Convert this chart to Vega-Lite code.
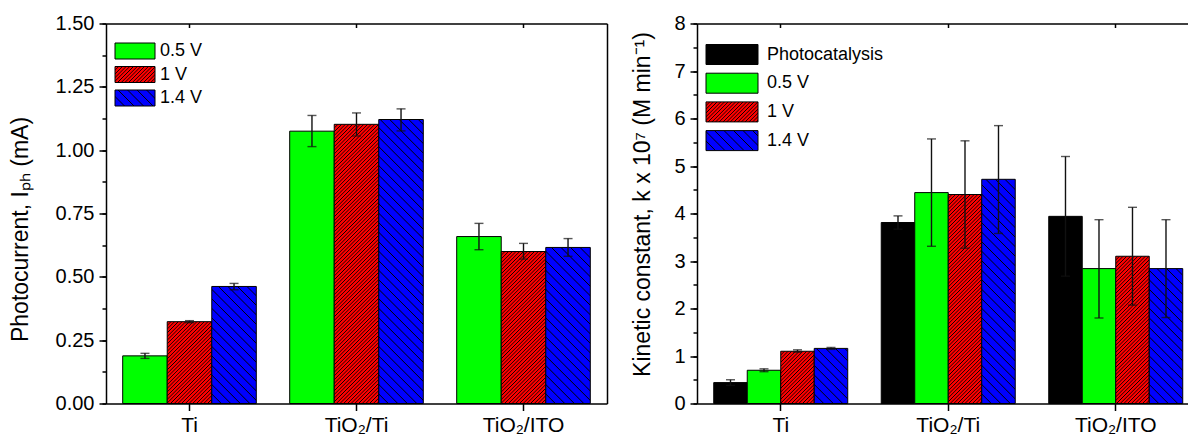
{
  "$schema": "https://vega.github.io/schema/vega-lite/v6.json",
  "padding": {"left": 9, "top": 13.5, "right": 0, "bottom": 0},
  "bounds": "flush",
  "spacing": 90,
  "config": {
    "view": {"stroke": null},
    "font": "Liberation Sans",
    "axis": {"grid": false, "domainColor": "#000", "domainWidth": 1.5, "tickColor": "#000", "tickWidth": 1.5, "labelColor": "#000", "labelFont": "Liberation Sans", "titleFont": "Liberation Sans", "titleColor": "#000", "titleFontWeight": "normal", "labelFontSize": 20, "titleFontSize": 23},
    "legend": {"labelFont": "Liberation Sans", "labelFontSize": 18, "labelColor": "#000"}
  },
  "params": [
    {"name": "rs", "value": [
      {"offset":0,"color":"#000"},{"offset":0.0027,"color":"#f00"},{"offset":0.0084,"color":"#f00"},
      {"offset":0.0111,"color":"#000"},{"offset":0.0138,"color":"#f00"},{"offset":0.0195,"color":"#f00"},
      {"offset":0.0222,"color":"#000"},{"offset":0.0249,"color":"#f00"},{"offset":0.0306,"color":"#f00"},
      {"offset":0.0333,"color":"#000"},{"offset":0.036,"color":"#f00"},{"offset":0.0417,"color":"#f00"},
      {"offset":0.0444,"color":"#000"},{"offset":0.0471,"color":"#f00"},{"offset":0.0528,"color":"#f00"},
      {"offset":0.0556,"color":"#000"},{"offset":0.0583,"color":"#f00"},{"offset":0.064,"color":"#f00"},
      {"offset":0.0667,"color":"#000"},{"offset":0.0694,"color":"#f00"},{"offset":0.0751,"color":"#f00"},
      {"offset":0.0778,"color":"#000"},{"offset":0.0805,"color":"#f00"},{"offset":0.0862,"color":"#f00"},
      {"offset":0.0889,"color":"#000"},{"offset":0.0916,"color":"#f00"},{"offset":0.0973,"color":"#f00"},
      {"offset":0.1,"color":"#000"},{"offset":0.1027,"color":"#f00"},{"offset":0.1084,"color":"#f00"},
      {"offset":0.1111,"color":"#000"},{"offset":0.1138,"color":"#f00"},{"offset":0.1195,"color":"#f00"},
      {"offset":0.1222,"color":"#000"},{"offset":0.1249,"color":"#f00"},{"offset":0.1306,"color":"#f00"},
      {"offset":0.1333,"color":"#000"},{"offset":0.136,"color":"#f00"},{"offset":0.1417,"color":"#f00"},
      {"offset":0.1444,"color":"#000"},{"offset":0.1471,"color":"#f00"},{"offset":0.1528,"color":"#f00"},
      {"offset":0.1556,"color":"#000"},{"offset":0.1583,"color":"#f00"},{"offset":0.164,"color":"#f00"},
      {"offset":0.1667,"color":"#000"},{"offset":0.1694,"color":"#f00"},{"offset":0.1751,"color":"#f00"},
      {"offset":0.1778,"color":"#000"},{"offset":0.1805,"color":"#f00"},{"offset":0.1862,"color":"#f00"},
      {"offset":0.1889,"color":"#000"},{"offset":0.1916,"color":"#f00"},{"offset":0.1973,"color":"#f00"},
      {"offset":0.2,"color":"#000"},{"offset":0.2027,"color":"#f00"},{"offset":0.2084,"color":"#f00"},
      {"offset":0.2111,"color":"#000"},{"offset":0.2138,"color":"#f00"},{"offset":0.2195,"color":"#f00"},
      {"offset":0.2222,"color":"#000"},{"offset":0.2249,"color":"#f00"},{"offset":0.2306,"color":"#f00"},
      {"offset":0.2333,"color":"#000"},{"offset":0.236,"color":"#f00"},{"offset":0.2417,"color":"#f00"},
      {"offset":0.2444,"color":"#000"},{"offset":0.2471,"color":"#f00"},{"offset":0.2528,"color":"#f00"},
      {"offset":0.2556,"color":"#000"},{"offset":0.2583,"color":"#f00"},{"offset":0.264,"color":"#f00"},
      {"offset":0.2667,"color":"#000"},{"offset":0.2694,"color":"#f00"},{"offset":0.2751,"color":"#f00"},
      {"offset":0.2778,"color":"#000"},{"offset":0.2805,"color":"#f00"},{"offset":0.2862,"color":"#f00"},
      {"offset":0.2889,"color":"#000"},{"offset":0.2916,"color":"#f00"},{"offset":0.2973,"color":"#f00"},
      {"offset":0.3,"color":"#000"},{"offset":0.3027,"color":"#f00"},{"offset":0.3084,"color":"#f00"},
      {"offset":0.3111,"color":"#000"},{"offset":0.3138,"color":"#f00"},{"offset":0.3195,"color":"#f00"},
      {"offset":0.3222,"color":"#000"},{"offset":0.3249,"color":"#f00"},{"offset":0.3306,"color":"#f00"},
      {"offset":0.3333,"color":"#000"},{"offset":0.336,"color":"#f00"},{"offset":0.3417,"color":"#f00"},
      {"offset":0.3444,"color":"#000"},{"offset":0.3471,"color":"#f00"},{"offset":0.3528,"color":"#f00"},
      {"offset":0.3556,"color":"#000"},{"offset":0.3583,"color":"#f00"},{"offset":0.364,"color":"#f00"},
      {"offset":0.3667,"color":"#000"},{"offset":0.3694,"color":"#f00"},{"offset":0.3751,"color":"#f00"},
      {"offset":0.3778,"color":"#000"},{"offset":0.3805,"color":"#f00"},{"offset":0.3862,"color":"#f00"},
      {"offset":0.3889,"color":"#000"},{"offset":0.3916,"color":"#f00"},{"offset":0.3973,"color":"#f00"},
      {"offset":0.4,"color":"#000"},{"offset":0.4027,"color":"#f00"},{"offset":0.4084,"color":"#f00"},
      {"offset":0.4111,"color":"#000"},{"offset":0.4138,"color":"#f00"},{"offset":0.4195,"color":"#f00"},
      {"offset":0.4222,"color":"#000"},{"offset":0.4249,"color":"#f00"},{"offset":0.4306,"color":"#f00"},
      {"offset":0.4333,"color":"#000"},{"offset":0.436,"color":"#f00"},{"offset":0.4417,"color":"#f00"},
      {"offset":0.4444,"color":"#000"},{"offset":0.4471,"color":"#f00"},{"offset":0.4528,"color":"#f00"},
      {"offset":0.4556,"color":"#000"},{"offset":0.4583,"color":"#f00"},{"offset":0.464,"color":"#f00"},
      {"offset":0.4667,"color":"#000"},{"offset":0.4694,"color":"#f00"},{"offset":0.4751,"color":"#f00"},
      {"offset":0.4778,"color":"#000"},{"offset":0.4805,"color":"#f00"},{"offset":0.4862,"color":"#f00"},
      {"offset":0.4889,"color":"#000"},{"offset":0.4916,"color":"#f00"},{"offset":0.4973,"color":"#f00"},
      {"offset":0.5,"color":"#000"},{"offset":0.5027,"color":"#f00"},{"offset":0.5084,"color":"#f00"},
      {"offset":0.5111,"color":"#000"},{"offset":0.5138,"color":"#f00"},{"offset":0.5195,"color":"#f00"},
      {"offset":0.5222,"color":"#000"},{"offset":0.5249,"color":"#f00"},{"offset":0.5306,"color":"#f00"},
      {"offset":0.5333,"color":"#000"},{"offset":0.536,"color":"#f00"},{"offset":0.5417,"color":"#f00"},
      {"offset":0.5444,"color":"#000"},{"offset":0.5471,"color":"#f00"},{"offset":0.5528,"color":"#f00"},
      {"offset":0.5556,"color":"#000"},{"offset":0.5583,"color":"#f00"},{"offset":0.564,"color":"#f00"},
      {"offset":0.5667,"color":"#000"},{"offset":0.5694,"color":"#f00"},{"offset":0.5751,"color":"#f00"},
      {"offset":0.5778,"color":"#000"},{"offset":0.5805,"color":"#f00"},{"offset":0.5862,"color":"#f00"},
      {"offset":0.5889,"color":"#000"},{"offset":0.5916,"color":"#f00"},{"offset":0.5973,"color":"#f00"},
      {"offset":0.6,"color":"#000"},{"offset":0.6027,"color":"#f00"},{"offset":0.6084,"color":"#f00"},
      {"offset":0.6111,"color":"#000"},{"offset":0.6138,"color":"#f00"},{"offset":0.6195,"color":"#f00"},
      {"offset":0.6222,"color":"#000"},{"offset":0.6249,"color":"#f00"},{"offset":0.6306,"color":"#f00"},
      {"offset":0.6333,"color":"#000"},{"offset":0.636,"color":"#f00"},{"offset":0.6417,"color":"#f00"},
      {"offset":0.6444,"color":"#000"},{"offset":0.6471,"color":"#f00"},{"offset":0.6528,"color":"#f00"},
      {"offset":0.6556,"color":"#000"},{"offset":0.6583,"color":"#f00"},{"offset":0.664,"color":"#f00"},
      {"offset":0.6667,"color":"#000"},{"offset":0.6694,"color":"#f00"},{"offset":0.6751,"color":"#f00"},
      {"offset":0.6778,"color":"#000"},{"offset":0.6805,"color":"#f00"},{"offset":0.6862,"color":"#f00"},
      {"offset":0.6889,"color":"#000"},{"offset":0.6916,"color":"#f00"},{"offset":0.6973,"color":"#f00"},
      {"offset":0.7,"color":"#000"},{"offset":0.7027,"color":"#f00"},{"offset":0.7084,"color":"#f00"},
      {"offset":0.7111,"color":"#000"},{"offset":0.7138,"color":"#f00"},{"offset":0.7195,"color":"#f00"},
      {"offset":0.7222,"color":"#000"},{"offset":0.7249,"color":"#f00"},{"offset":0.7306,"color":"#f00"},
      {"offset":0.7333,"color":"#000"},{"offset":0.736,"color":"#f00"},{"offset":0.7417,"color":"#f00"},
      {"offset":0.7444,"color":"#000"},{"offset":0.7471,"color":"#f00"},{"offset":0.7528,"color":"#f00"},
      {"offset":0.7556,"color":"#000"},{"offset":0.7583,"color":"#f00"},{"offset":0.764,"color":"#f00"},
      {"offset":0.7667,"color":"#000"},{"offset":0.7694,"color":"#f00"},{"offset":0.7751,"color":"#f00"},
      {"offset":0.7778,"color":"#000"},{"offset":0.7805,"color":"#f00"},{"offset":0.7862,"color":"#f00"},
      {"offset":0.7889,"color":"#000"},{"offset":0.7916,"color":"#f00"},{"offset":0.7973,"color":"#f00"},
      {"offset":0.8,"color":"#000"},{"offset":0.8027,"color":"#f00"},{"offset":0.8084,"color":"#f00"},
      {"offset":0.8111,"color":"#000"},{"offset":0.8138,"color":"#f00"},{"offset":0.8195,"color":"#f00"},
      {"offset":0.8222,"color":"#000"},{"offset":0.8249,"color":"#f00"},{"offset":0.8306,"color":"#f00"},
      {"offset":0.8333,"color":"#000"},{"offset":0.836,"color":"#f00"},{"offset":0.8417,"color":"#f00"},
      {"offset":0.8444,"color":"#000"},{"offset":0.8471,"color":"#f00"},{"offset":0.8528,"color":"#f00"},
      {"offset":0.8556,"color":"#000"},{"offset":0.8583,"color":"#f00"},{"offset":0.864,"color":"#f00"},
      {"offset":0.8667,"color":"#000"},{"offset":0.8694,"color":"#f00"},{"offset":0.8751,"color":"#f00"},
      {"offset":0.8778,"color":"#000"},{"offset":0.8805,"color":"#f00"},{"offset":0.8862,"color":"#f00"},
      {"offset":0.8889,"color":"#000"},{"offset":0.8916,"color":"#f00"},{"offset":0.8973,"color":"#f00"},
      {"offset":0.9,"color":"#000"},{"offset":0.9027,"color":"#f00"},{"offset":0.9084,"color":"#f00"},
      {"offset":0.9111,"color":"#000"},{"offset":0.9138,"color":"#f00"},{"offset":0.9195,"color":"#f00"},
      {"offset":0.9222,"color":"#000"},{"offset":0.9249,"color":"#f00"},{"offset":0.9306,"color":"#f00"},
      {"offset":0.9333,"color":"#000"},{"offset":0.936,"color":"#f00"},{"offset":0.9417,"color":"#f00"},
      {"offset":0.9444,"color":"#000"},{"offset":0.9471,"color":"#f00"},{"offset":0.9528,"color":"#f00"},
      {"offset":0.9556,"color":"#000"},{"offset":0.9583,"color":"#f00"},{"offset":0.964,"color":"#f00"},
      {"offset":0.9667,"color":"#000"},{"offset":0.9694,"color":"#f00"},{"offset":0.9751,"color":"#f00"},
      {"offset":0.9778,"color":"#000"},{"offset":0.9805,"color":"#f00"},{"offset":0.9862,"color":"#f00"},
      {"offset":0.9889,"color":"#000"},{"offset":0.9916,"color":"#f00"},{"offset":0.9973,"color":"#f00"},
      {"offset":1,"color":"#000"}
    ]},
    {"name": "bs", "value": [
      {"offset":0,"color":"#000"},{"offset":0.003,"color":"#00f"},{"offset":0.0256,"color":"#00f"},
      {"offset":0.0286,"color":"#000"},{"offset":0.0316,"color":"#00f"},{"offset":0.0542,"color":"#00f"},
      {"offset":0.0571,"color":"#000"},{"offset":0.0601,"color":"#00f"},{"offset":0.0827,"color":"#00f"},
      {"offset":0.0857,"color":"#000"},{"offset":0.0887,"color":"#00f"},{"offset":0.1113,"color":"#00f"},
      {"offset":0.1143,"color":"#000"},{"offset":0.1173,"color":"#00f"},{"offset":0.1399,"color":"#00f"},
      {"offset":0.1429,"color":"#000"},{"offset":0.1459,"color":"#00f"},{"offset":0.1685,"color":"#00f"},
      {"offset":0.1714,"color":"#000"},{"offset":0.1744,"color":"#00f"},{"offset":0.197,"color":"#00f"},
      {"offset":0.2,"color":"#000"},{"offset":0.203,"color":"#00f"},{"offset":0.2256,"color":"#00f"},
      {"offset":0.2286,"color":"#000"},{"offset":0.2316,"color":"#00f"},{"offset":0.2542,"color":"#00f"},
      {"offset":0.2571,"color":"#000"},{"offset":0.2601,"color":"#00f"},{"offset":0.2827,"color":"#00f"},
      {"offset":0.2857,"color":"#000"},{"offset":0.2887,"color":"#00f"},{"offset":0.3113,"color":"#00f"},
      {"offset":0.3143,"color":"#000"},{"offset":0.3173,"color":"#00f"},{"offset":0.3399,"color":"#00f"},
      {"offset":0.3429,"color":"#000"},{"offset":0.3459,"color":"#00f"},{"offset":0.3685,"color":"#00f"},
      {"offset":0.3714,"color":"#000"},{"offset":0.3744,"color":"#00f"},{"offset":0.397,"color":"#00f"},
      {"offset":0.4,"color":"#000"},{"offset":0.403,"color":"#00f"},{"offset":0.4256,"color":"#00f"},
      {"offset":0.4286,"color":"#000"},{"offset":0.4316,"color":"#00f"},{"offset":0.4542,"color":"#00f"},
      {"offset":0.4571,"color":"#000"},{"offset":0.4601,"color":"#00f"},{"offset":0.4827,"color":"#00f"},
      {"offset":0.4857,"color":"#000"},{"offset":0.4887,"color":"#00f"},{"offset":0.5113,"color":"#00f"},
      {"offset":0.5143,"color":"#000"},{"offset":0.5173,"color":"#00f"},{"offset":0.5399,"color":"#00f"},
      {"offset":0.5429,"color":"#000"},{"offset":0.5459,"color":"#00f"},{"offset":0.5685,"color":"#00f"},
      {"offset":0.5714,"color":"#000"},{"offset":0.5744,"color":"#00f"},{"offset":0.597,"color":"#00f"},
      {"offset":0.6,"color":"#000"},{"offset":0.603,"color":"#00f"},{"offset":0.6256,"color":"#00f"},
      {"offset":0.6286,"color":"#000"},{"offset":0.6316,"color":"#00f"},{"offset":0.6542,"color":"#00f"},
      {"offset":0.6571,"color":"#000"},{"offset":0.6601,"color":"#00f"},{"offset":0.6827,"color":"#00f"},
      {"offset":0.6857,"color":"#000"},{"offset":0.6887,"color":"#00f"},{"offset":0.7113,"color":"#00f"},
      {"offset":0.7143,"color":"#000"},{"offset":0.7173,"color":"#00f"},{"offset":0.7399,"color":"#00f"},
      {"offset":0.7429,"color":"#000"},{"offset":0.7459,"color":"#00f"},{"offset":0.7685,"color":"#00f"},
      {"offset":0.7714,"color":"#000"},{"offset":0.7744,"color":"#00f"},{"offset":0.797,"color":"#00f"},
      {"offset":0.8,"color":"#000"},{"offset":0.803,"color":"#00f"},{"offset":0.8256,"color":"#00f"},
      {"offset":0.8286,"color":"#000"},{"offset":0.8316,"color":"#00f"},{"offset":0.8542,"color":"#00f"},
      {"offset":0.8571,"color":"#000"},{"offset":0.8601,"color":"#00f"},{"offset":0.8827,"color":"#00f"},
      {"offset":0.8857,"color":"#000"},{"offset":0.8887,"color":"#00f"},{"offset":0.9113,"color":"#00f"},
      {"offset":0.9143,"color":"#000"},{"offset":0.9173,"color":"#00f"},{"offset":0.9399,"color":"#00f"},
      {"offset":0.9429,"color":"#000"},{"offset":0.9459,"color":"#00f"},{"offset":0.9685,"color":"#00f"},
      {"offset":0.9714,"color":"#000"},{"offset":0.9744,"color":"#00f"},{"offset":0.997,"color":"#00f"},
      {"offset":1,"color":"#000"}
    ]}
  ],
  "hconcat": [
    {
      "width": 501,
      "height": 380,
      "data": {"values": [
        {"cat": "Ti", "series": "0.5 V", "value": 0.188, "lo": 0.178, "hi": 0.198},
        {"cat": "Ti", "series": "1 V", "value": 0.323, "lo": 0.319, "hi": 0.327},
        {"cat": "Ti", "series": "1.4 V", "value": 0.462, "lo": 0.449, "hi": 0.474},
        {"cat": "TiO₂/Ti", "series": "0.5 V", "value": 1.075, "lo": 1.014, "hi": 1.137},
        {"cat": "TiO₂/Ti", "series": "1 V", "value": 1.102, "lo": 1.056, "hi": 1.147},
        {"cat": "TiO₂/Ti", "series": "1.4 V", "value": 1.121, "lo": 1.076, "hi": 1.163},
        {"cat": "TiO₂/ITO", "series": "0.5 V", "value": 0.659, "lo": 0.607, "hi": 0.711},
        {"cat": "TiO₂/ITO", "series": "1 V", "value": 0.600, "lo": 0.570, "hi": 0.632},
        {"cat": "TiO₂/ITO", "series": "1.4 V", "value": 0.616, "lo": 0.581, "hi": 0.651}
      ]},
      "layer": [
        {
          "mark": {"type": "bar", "strokeWidth": 1, "fill": {"expr": "datum.series ? (datum.series=='1 V' ? {gradient:'linear',x1:0,y1:0,x2:44.53*333/(1983+pow(datum.value*253.33,2)),y2:datum.value*253.33*333/(1983+pow(datum.value*253.33,2)),stops:rs} : datum.series=='1.4 V' ? {gradient:'linear',x1:0,y1:1,x2:44.53*333/(1983+pow(datum.value*253.33,2)),y2:1-datum.value*253.33*333/(1983+pow(datum.value*253.33,2)),stops:bs} : datum.series=='0.5 V' ? '#00ff00' : '#000000') : (datum.value=='1 V' ? {gradient:'linear',x1:0,y1:0,x2:7.177,y2:2.871,stops:rs} : datum.value=='1.4 V' ? {gradient:'linear',x1:0,y1:1,x2:7.177,y2:-1.871,stops:bs} : datum.value=='0.5 V' ? '#00ff00' : '#000000')"}},
          "encoding": {
            "x": {"field": "cat", "type": "nominal", "scale": {"domain": ["Ti", "TiO₂/Ti", "TiO₂/ITO"], "paddingInner": 0.2, "paddingOuter": 0.1},
                  "axis": {"orient": "bottom", "title": null, "labelAngle": 0, "labelFontSize": 21, "tickSize": 7, "labelPadding": 4}},
            "xOffset": {"field": "series", "type": "nominal", "scale": {"domain": ["0.5 V", "1 V", "1.4 V"], "paddingInner": 0, "paddingOuter": 0}},
            "y": {"field": "value", "type": "quantitative", "stack": null, "scale": {"domain": [0, 1.5], "nice": false},
                  "axis": {"orient": "left", "values": [0, 0.25, 0.5, 0.75, 1, 1.25, 1.5], "format": ".2f", "tickSize": 7, "labelPadding": 5, "title": "Photocurrent, Iₚₕ (mA)", "titlePadding": 23, "titleY": 205.5}},
            "stroke": {"field": "series", "type": "nominal", "scale": {"domain": ["0.5 V", "1 V", "1.4 V"], "range": ["#000", "#000", "#000"]},
                       "legend": {"title": null, "orient": "none", "legendX": 20, "legendY": 18.5, "padding": 0, "symbolType": "M-2.5,-1H2.5V1H-2.5Z", "symbolSize": 256, "symbolStrokeWidth": 1, "symbolStrokeColor": "#000", "symbolOpacity": 1, "labelOffset": 16, "rowPadding": 3.5, "labelFontSize": 18}}
          }
        },
        {
          "mark": {"type": "rule", "color": "#111", "strokeWidth": 1.4},
          "encoding": {
            "x": {"field": "cat", "type": "nominal", "axis": {"orient": "top", "labels": false, "title": null, "tickSize": -4}},
            "xOffset": {"field": "series", "type": "nominal"},
            "y": {"field": "lo", "type": "quantitative", "axis": {"orient": "right", "labels": false, "ticks": false, "title": null}},
            "y2": {"field": "hi"}
          }
        },
        {
          "mark": {"type": "tick", "orient": "horizontal", "size": 9, "thickness": 1.4, "color": "#111"},
          "encoding": {
            "x": {"field": "cat", "type": "nominal", "axis": null},
            "xOffset": {"field": "series", "type": "nominal"},
            "y": {"field": "lo", "type": "quantitative", "axis": {"orient": "left", "values": [0, 0.125, 0.25, 0.375, 0.5, 0.625, 0.75, 0.875, 1, 1.125, 1.25, 1.375, 1.5], "labels": false, "domain": false, "tickSize": 4, "title": null}}
          }
        },
        {
          "mark": {"type": "tick", "orient": "horizontal", "size": 9, "thickness": 1.4, "color": "#111"},
          "encoding": {
            "x": {"field": "cat", "type": "nominal", "axis": null},
            "xOffset": {"field": "series", "type": "nominal"},
            "y": {"field": "hi", "type": "quantitative", "axis": null}
          }
        }
      ],
      "resolve": {"axis": {"x": "independent", "y": "independent"}}
    },
    {
      "width": 491,
      "height": 380,
      "data": {"values": [
        {"cat": "Ti", "series": "Photocatalysis", "value": 0.44, "lo": 0.38, "hi": 0.50},
        {"cat": "Ti", "series": "0.5 V", "value": 0.70, "lo": 0.67, "hi": 0.73},
        {"cat": "Ti", "series": "1 V", "value": 1.10, "lo": 1.08, "hi": 1.13},
        {"cat": "Ti", "series": "1.4 V", "value": 1.16, "lo": 1.14, "hi": 1.18},
        {"cat": "TiO₂/Ti", "series": "Photocatalysis", "value": 3.81, "lo": 3.67, "hi": 3.95},
        {"cat": "TiO₂/Ti", "series": "0.5 V", "value": 4.44, "lo": 3.31, "hi": 5.57},
        {"cat": "TiO₂/Ti", "series": "1 V", "value": 4.40, "lo": 3.27, "hi": 5.53},
        {"cat": "TiO₂/Ti", "series": "1.4 V", "value": 4.72, "lo": 3.58, "hi": 5.85},
        {"cat": "TiO₂/ITO", "series": "Photocatalysis", "value": 3.94, "lo": 2.68, "hi": 5.20},
        {"cat": "TiO₂/ITO", "series": "0.5 V", "value": 2.84, "lo": 1.80, "hi": 3.87},
        {"cat": "TiO₂/ITO", "series": "1 V", "value": 3.10, "lo": 2.07, "hi": 4.13},
        {"cat": "TiO₂/ITO", "series": "1.4 V", "value": 2.84, "lo": 1.81, "hi": 3.87}
      ]},
      "layer": [
        {
          "mark": {"type": "bar", "strokeWidth": 1, "fill": {"expr": "datum.series ? (datum.series=='1 V' ? {gradient:'linear',x1:0,y1:0,x2:33.5*333/(1122+pow(datum.value*47.5,2)),y2:datum.value*47.5*333/(1122+pow(datum.value*47.5,2)),stops:rs} : datum.series=='1.4 V' ? {gradient:'linear',x1:0,y1:1,x2:33.5*333/(1122+pow(datum.value*47.5,2)),y2:1-datum.value*47.5*333/(1122+pow(datum.value*47.5,2)),stops:bs} : datum.series=='0.5 V' ? '#00ff00' : '#000000') : (datum.value=='1 V' ? {gradient:'linear',x1:0,y1:0,x2:5.579,y2:2.146,stops:rs} : datum.value=='1.4 V' ? {gradient:'linear',x1:0,y1:1,x2:5.579,y2:-1.146,stops:bs} : datum.value=='0.5 V' ? '#00ff00' : '#000000')"}},
          "encoding": {
            "x": {"field": "cat", "type": "nominal", "scale": {"domain": ["Ti", "TiO₂/Ti", "TiO₂/ITO"], "paddingInner": 0.2, "paddingOuter": 0.0657, "align": 0.761},
                  "axis": {"orient": "bottom", "title": null, "labelAngle": 0, "labelFontSize": 21, "tickSize": 7, "labelPadding": 4}},
            "xOffset": {"field": "series", "type": "nominal", "scale": {"domain": ["Photocatalysis", "0.5 V", "1 V", "1.4 V"], "paddingInner": 0, "paddingOuter": 0}},
            "y": {"field": "value", "type": "quantitative", "stack": null, "scale": {"domain": [0, 8], "nice": false},
                  "axis": {"orient": "left", "values": [0, 1, 2, 3, 4, 5, 6, 7, 8], "format": "d", "tickSize": 7, "labelPadding": 5, "title": "Kinetic constant, k x 10⁷ (M min⁻¹)", "titlePadding": 19, "titleY": 180.5}},
            "stroke": {"field": "series", "type": "nominal", "scale": {"domain": ["Photocatalysis", "0.5 V", "1 V", "1.4 V"], "range": ["#000", "#000", "#000", "#000"]},
                       "legend": {"title": null, "orient": "none", "legendX": 24.5, "legendY": 20.5, "padding": 0, "symbolType": "M-2.6,-1H2.6V1H-2.6Z", "symbolSize": 400, "symbolStrokeWidth": 1, "symbolStrokeColor": "#000", "symbolOpacity": 1, "labelOffset": 24.5, "rowPadding": 3.7, "labelFontSize": 18}}
          }
        },
        {
          "mark": {"type": "rule", "color": "#111", "strokeWidth": 1.4},
          "encoding": {
            "x": {"field": "cat", "type": "nominal", "axis": {"orient": "top", "labels": false, "title": null, "tickSize": -4}},
            "xOffset": {"field": "series", "type": "nominal"},
            "y": {"field": "lo", "type": "quantitative", "axis": null},
            "y2": {"field": "hi"}
          }
        },
        {
          "mark": {"type": "tick", "orient": "horizontal", "size": 9, "thickness": 1.4, "color": "#111"},
          "encoding": {
            "x": {"field": "cat", "type": "nominal", "axis": null},
            "xOffset": {"field": "series", "type": "nominal"},
            "y": {"field": "lo", "type": "quantitative", "axis": {"orient": "left", "values": [0, 0.5, 1, 1.5, 2, 2.5, 3, 3.5, 4, 4.5, 5, 5.5, 6, 6.5, 7, 7.5, 8], "labels": false, "domain": false, "tickSize": 4, "title": null}}
          }
        },
        {
          "mark": {"type": "tick", "orient": "horizontal", "size": 9, "thickness": 1.4, "color": "#111"},
          "encoding": {
            "x": {"field": "cat", "type": "nominal", "axis": null},
            "xOffset": {"field": "series", "type": "nominal"},
            "y": {"field": "hi", "type": "quantitative", "axis": null}
          }
        }
      ],
      "resolve": {"axis": {"x": "independent", "y": "independent"}}
    }
  ],
  "resolve": {"scale": {"x": "independent", "y": "independent", "xOffset": "independent", "stroke": "independent"}, "legend": {"stroke": "independent"}}
}
